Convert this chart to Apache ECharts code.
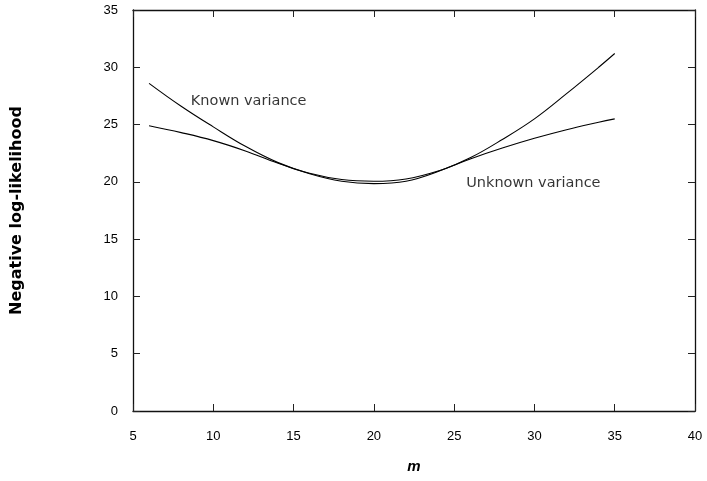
<!DOCTYPE html>
<html>
<head>
<meta charset="utf-8">
<script src="https://cdn.jsdelivr.net/npm/echarts@6/dist/echarts.min.js"></script>
<style>html,body{margin:0;padding:0;background:#fff;}#c{width:707px;height:481px;}</style>
</head>
<body>
<div id="c"></div>
<script>
const mValues = [6, 8, 10, 12, 14, 16, 18, 20, 22, 24, 26, 28, 30, 32, 34, 35];
const knownVariance = [28.6, 26.6, 24.8, 23.1, 21.7, 20.7, 20.05, 19.85, 20.05, 20.9, 22.1, 23.7, 25.5, 27.7, 30.0, 31.2];
const unknownVariance = [24.9, 24.3, 23.6, 22.7, 21.65, 20.75, 20.2, 20.05, 20.25, 20.95, 22.0, 22.95, 23.8, 24.55, 25.2, 25.5];
const xTicks = [5, 10, 15, 20, 25, 30, 35, 40];
const yTicks = [0, 5, 10, 15, 20, 25, 30, 35];
const knownLabel = {text: 'Known variance', m: 8.6, v: 27.05};
const unknownLabel = {text: 'Unknown variance', m: 25.75, v: 19.9};

const pairs = (xs, ys) => xs.map((x, i) => [x, ys[i]]);
const tickFont = {color: '#000', fontFamily: 'Liberation Sans', fontSize: 13};
const lineStyleAxis = {color: '#111', width: 1.3};
const axisLineStyle = {show: true, onZero: false, lineStyle: lineStyleAxis};
const tickStyle = {show: true, inside: true, length: 7, lineStyle: {color: '#222', width: 1}};

const chart = echarts.init(document.getElementById('c'), null, {renderer: 'canvas'});
chart.setOption({
  animation: false,
  backgroundColor: '#fff',
  grid: {left: 133, right: 12, top: 10, bottom: 70, containLabel: false},
  xAxis: [{
    type: 'value', min: xTicks[0], max: xTicks[xTicks.length - 1], interval: 5,
    position: 'bottom',
    name: 'm', nameLocation: 'middle', nameGap: 48,
    nameTextStyle: {fontFamily: 'Liberation Sans', fontSize: 15, fontWeight: 'bold', fontStyle: 'italic', color: '#000'},
    axisLine: axisLineStyle,
    axisTick: tickStyle,
    axisLabel: Object.assign({margin: 19}, tickFont),
    splitLine: {show: false}
  }, {
    type: 'value', min: xTicks[0], max: xTicks[xTicks.length - 1], interval: 5,
    position: 'top',
    axisLine: axisLineStyle,
    axisTick: tickStyle,
    axisLabel: {show: false},
    splitLine: {show: false}
  }],
  yAxis: [{
    type: 'value', min: yTicks[0], max: yTicks[yTicks.length - 1], interval: 5,
    position: 'left',
    name: 'Negative log-likelihood', nameLocation: 'middle', nameGap: 108, nameRotate: 90,
    nameTextStyle: {fontFamily: 'DejaVu Sans', fontSize: 16, fontWeight: 'bold', color: '#000'},
    axisLine: axisLineStyle,
    axisTick: tickStyle,
    axisLabel: Object.assign({margin: 15}, tickFont),
    splitLine: {show: false}
  }, {
    type: 'value', min: yTicks[0], max: yTicks[yTicks.length - 1], interval: 5,
    position: 'right',
    axisLine: axisLineStyle,
    axisTick: tickStyle,
    axisLabel: {show: false},
    splitLine: {show: false}
  }],
  series: [{
    name: 'Known variance', type: 'line', smooth: 0.4, showSymbol: false,
    data: pairs(mValues, knownVariance),
    lineStyle: {color: '#000', width: 1.1}
  }, {
    name: 'Unknown variance', type: 'line', smooth: 0.4, showSymbol: false,
    data: pairs(mValues, unknownVariance),
    lineStyle: {color: '#000', width: 1.1}
  }, {
    type: 'scatter', symbolSize: 0, silent: true,
    data: [[knownLabel.m, knownLabel.v, knownLabel.text], [unknownLabel.m, unknownLabel.v, unknownLabel.text]],
    label: {
      show: true, position: 'right', distance: 0,
      formatter: p => p.value[2],
      fontFamily: 'DejaVu Sans', fontSize: 14.5, color: '#000'
    }
  }]
});
</script>
</body>
</html>
